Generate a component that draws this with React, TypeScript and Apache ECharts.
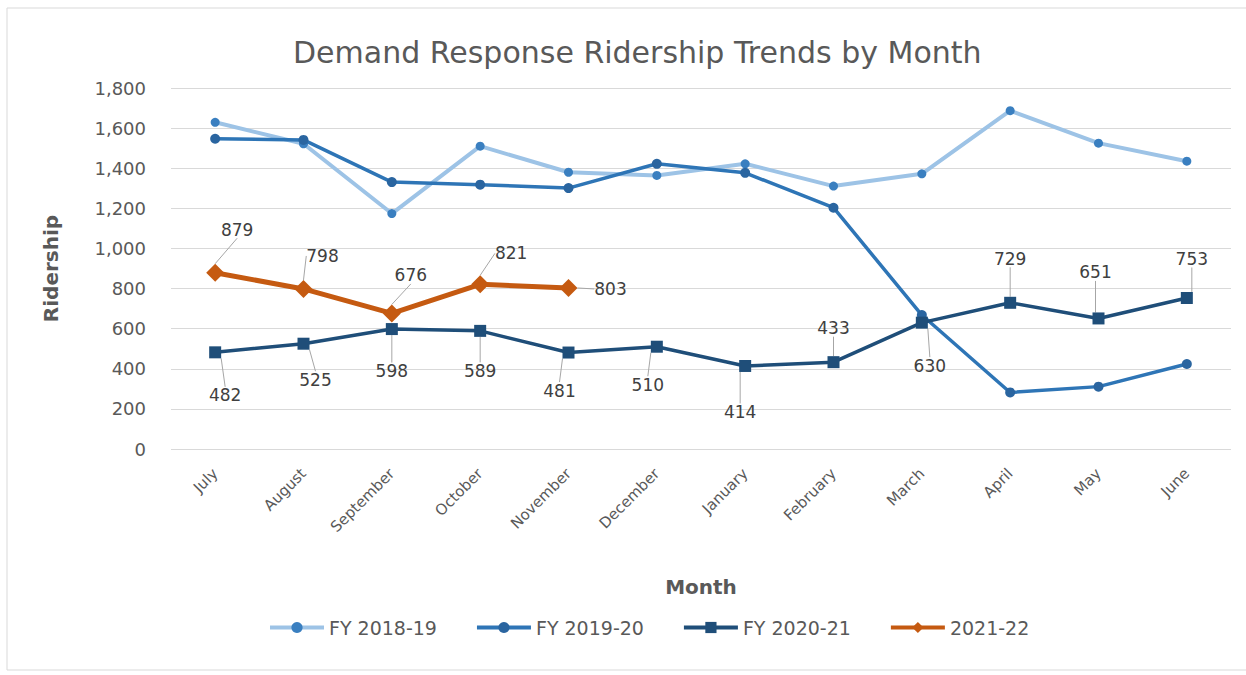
import React, { useEffect, useRef } from "react";
import * as echarts from "echarts";

const months = ["July", "August", "September", "October", "November", "December", "January", "February", "March", "April", "May", "June"];
const fy1819 = [1629, 1522, 1174, 1510, 1380, 1364, 1422, 1311, 1372, 1687, 1525, 1435];
const fy1920 = [1547, 1541, 1331, 1318, 1301, 1422, 1377, 1203, 668, 282, 311, 424];
const fy2021 = [482, 525, 598, 589, 481, 510, 414, 433, 630, 729, 651, 753];
const fy2122 = [879, 798, 676, 821, 803];
const yTicks = [0, 200, 400, 600, 800, 1000, 1200, 1400, 1600, 1800];

// label offsets (dx, dy) from point centre
const navyOffsets = [[10, 43], [12, 36], [0, 42], [0, 40], [-9, 38], [-9, 38], [-5, 46], [0, -34], [8, 43], [0, -44], [-3, -46], [5, -39]];
const orangeOffsets = [[22, -43], [19, -33], [19, -38], [31, -31], [42, 1]];

const FONT = "'DejaVu Sans', 'Noto Sans', sans-serif";

export default function App() {
  const ref = useRef<HTMLDivElement>(null);
  useEffect(() => {
    const chart = echarts.init(ref.current!, undefined, { renderer: "svg" });
    const labelStyle = { show: true, position: "inside", color: "#404040", fontSize: 17, fontFamily: FONT, formatter: (p: any) => String(p.value) };
    const labelLine = { show: true, lineStyle: { color: "#a6a6a6", width: 1 } };
    chart.setOption({
      animation: false,
      backgroundColor: "#fff",
      title: {
        text: "Demand Response Ridership Trends by Month",
        left: 288,
        top: 32,
        textStyle: { color: "#595959", fontSize: 30, fontWeight: "normal", fontFamily: FONT },
      },
      graphic: [
        { type: "rect", shape: { x: 7, y: 8, width: 1250, height: 662 }, style: { fill: "none", stroke: "#d9d9d9", lineWidth: 1 }, silent: true },
      ],
      grid: { left: 171, right: 15, top: 88, bottom: 226, containLabel: false },
      legend: {
        bottom: 33,
        left: 263,
        itemWidth: 54,
        itemHeight: 14,
        itemGap: 38,
        lineStyle: { width: 4 },
        textStyle: { color: "#595959", fontSize: 19, fontFamily: FONT },
        data: ["FY 2018-19", "FY 2019-20", "FY 2020-21", "2021-22"],
      },
      xAxis: {
        type: "category",
        data: months,
        boundaryGap: true,
        name: "Month",
        nameLocation: "middle",
        nameGap: 128,
        nameTextStyle: { color: "#595959", fontSize: 20, fontWeight: "bold", fontFamily: FONT },
        axisLine: { show: false },
        axisTick: { show: false },
        axisLabel: { rotate: 45, color: "#595959", fontSize: 15, fontFamily: FONT, margin: 22 },
      },
      yAxis: {
        type: "value",
        min: 0,
        max: 1800,
        interval: 200,
        name: "Ridership",
        nameLocation: "middle",
        nameGap: 110,
        nameTextStyle: { color: "#595959", fontSize: 20, fontWeight: "bold", fontFamily: FONT },
        axisLine: { show: false },
        axisTick: { show: false },
        splitLine: { lineStyle: { color: "#d9d9d9", width: 1 } },
        axisLabel: {
          color: "#595959",
          fontSize: 18,
          fontFamily: FONT,
          margin: 25,
          formatter: (v: number) => (yTicks.includes(v) ? v.toLocaleString("en-US") : ""),
        },
      },
      series: [
        {
          name: "FY 2018-19",
          type: "line",
          data: fy1819,
          symbol: "circle",
          symbolSize: 9,
          lineStyle: { color: "#9dc3e6", width: 4 },
          itemStyle: { color: "#3a7fc0", borderWidth: 0 },
          z: 2,
        },
        {
          name: "FY 2019-20",
          type: "line",
          data: fy1920,
          symbol: "circle",
          symbolSize: 10,
          lineStyle: { color: "#2e75b6", width: 3.5 },
          itemStyle: { color: "#2a65a0", borderWidth: 0 },
          z: 3,
        },
        {
          name: "FY 2020-21",
          type: "line",
          data: fy2021,
          symbol: "rect",
          symbolSize: 12,
          lineStyle: { color: "#1f4e79", width: 3.5 },
          itemStyle: { color: "#1f4e79", borderWidth: 0 },
          label: labelStyle,
          labelLine,
          labelLayout: (p: any) => ({ dx: navyOffsets[p.dataIndex][0], dy: navyOffsets[p.dataIndex][1] }),
          z: 4,
        },
        {
          name: "2021-22",
          type: "line",
          data: fy2122,
          symbol: "diamond",
          symbolSize: 18,
          lineStyle: { color: "#c55a11", width: 5 },
          itemStyle: { color: "#c55a11", borderWidth: 0 },
          label: labelStyle,
          labelLine,
          labelLayout: (p: any) => ({ dx: orangeOffsets[p.dataIndex][0], dy: orangeOffsets[p.dataIndex][1] }),
          z: 5,
        },
      ],
    });
    return () => chart.dispose();
  }, []);
  return <div ref={ref} style={{ position: "absolute", left: 0, top: 0, width: 1246, height: 675 }} />;
}
